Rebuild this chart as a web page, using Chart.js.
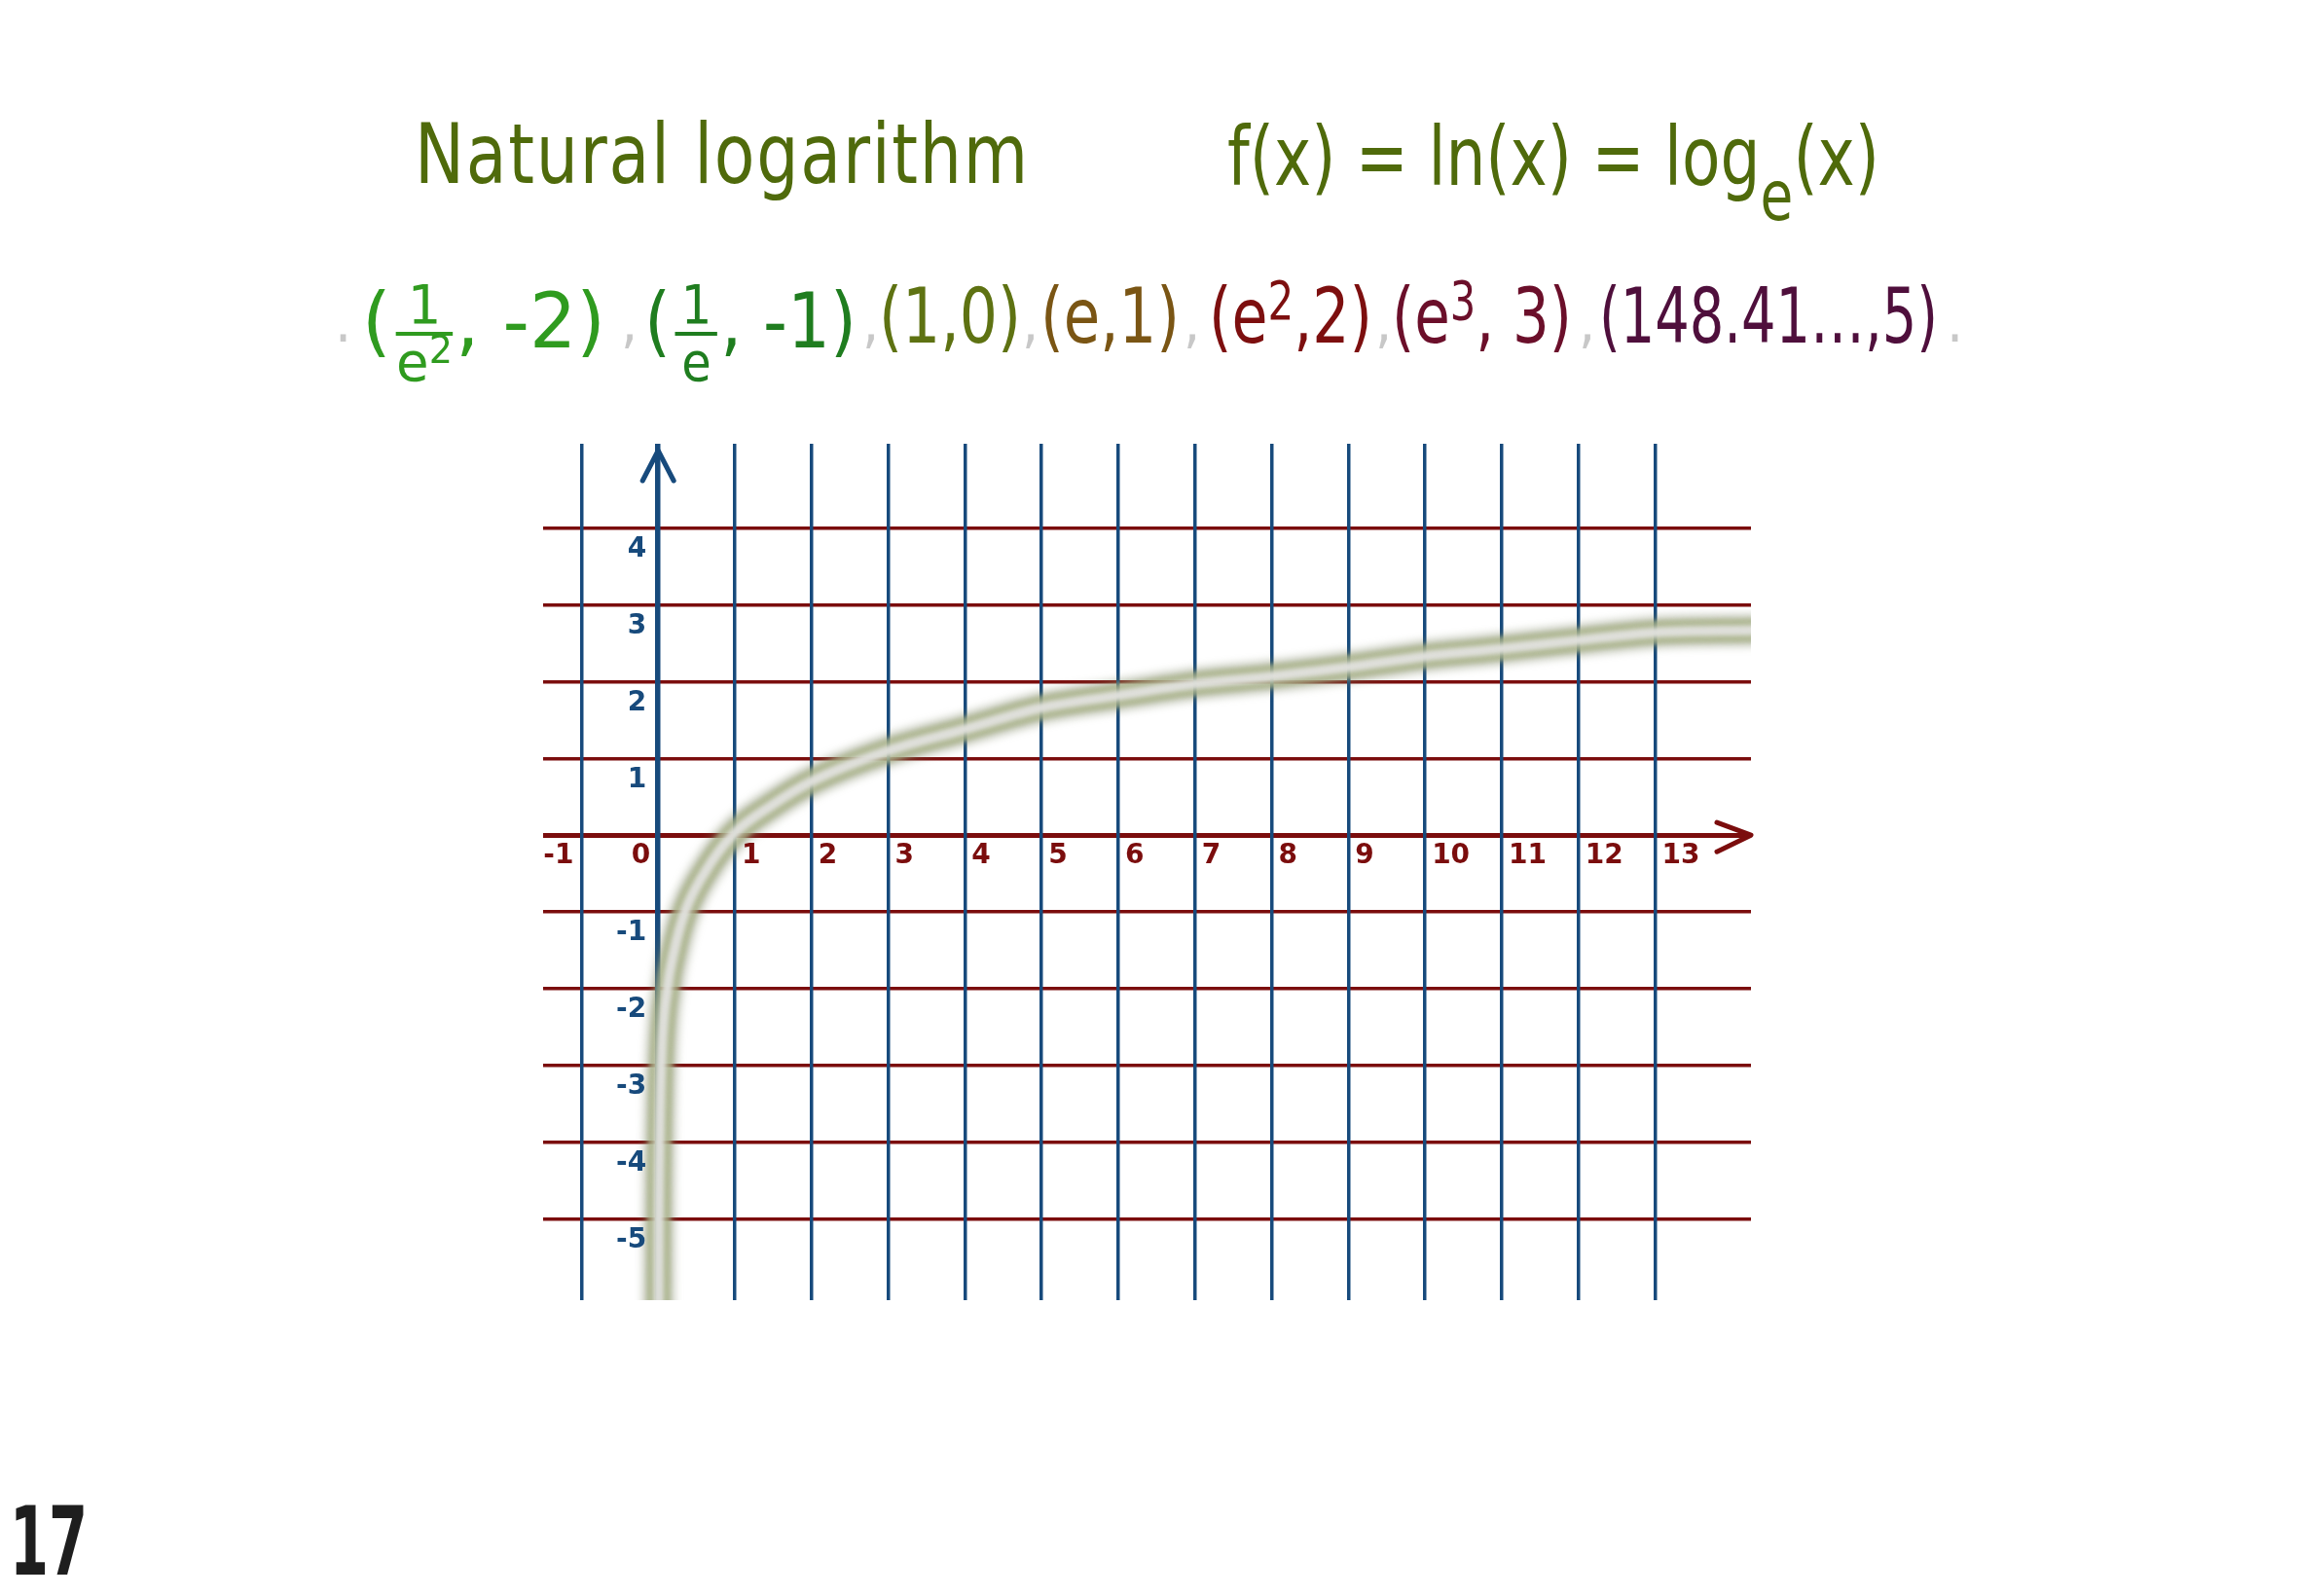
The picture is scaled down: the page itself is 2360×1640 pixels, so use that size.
<!DOCTYPE html>
<html>
<head>
<meta charset="utf-8">
<title>Natural logarithm</title>
<script src="https://cdn.jsdelivr.net/npm/chart.js@4.4.1/dist/chart.umd.min.js"></script>
<style>
  html, body { margin: 0; padding: 0; background: #fff; }
  body {
    width: 2360px; height: 1640px; position: relative; overflow: hidden;
    font-family: "Liberation Sans Narrow", "DejaVu Sans Condensed", "Liberation Sans", sans-serif;
  }
  #lnChart { position: absolute; left: 0; top: 0; }
  .hand { position: absolute; white-space: nowrap; line-height: 1; transform-origin: left top; }
  #title { left: 426px; top: 115px; font-size: 86px; color: #4f6a0b; letter-spacing: 2px; }
  #formula { left: 1261px; top: 119px; font-size: 84px; color: #4f6a0b; }
  #formula .sub { position: relative; top: 0.5em; font-size: 0.85em; }
  .g { position: absolute; top: 286px; font-size: 78px; line-height: 1; white-space: nowrap; transform-origin: left top; }
  .sep { position: absolute; top: 300px; font-size: 60px; line-height: 1; color: #c8c8c8; }
  .frac { display: inline-block; vertical-align: -34px; font-size: 56px; line-height: 0.95; text-align: center; margin: 0 3px 0 5px; }
  .frac .num { display: block; border-bottom: 4px solid currentColor; padding: 0 6px 2px; }
  .frac .den { display: block; }
  .g sup { font-size: 0.7em; vertical-align: 24px; line-height: 0; }
  .frac sup { font-size: 0.7em; vertical-align: 18px; }
  #page { left: 10px; top: 1535px; font-size: 98px; font-weight: bold; color: #1e1e1e; }
</style>
</head>
<body>
<canvas id="lnChart" width="2360" height="1640"></canvas>

<div class="hand" id="title" data-w="632">Natural logarithm</div>
<div class="hand" id="formula" data-w="670">f(x) = ln(x) = log<span class="sub">e</span>(x)</div>

<span class="sep" style="left:344px">.</span>
<span class="g" data-w="250" style="left:372px;color:#2f9b1f">(<span class="frac"><span class="num">1</span><span class="den">e<sup>2</sup></span></span>, -2)</span>
<span class="sep" style="left:638px">,</span>
<span class="g" data-w="218" style="left:662px;color:#1f7d1f">(<span class="frac"><span class="num">1</span><span class="den">e</span></span>, -1)</span>
<span class="sep" style="left:886px">,</span>
<span class="g" data-w="146" style="left:903px;color:#5e7212">(1,0)</span>
<span class="sep" style="left:1050px">,</span>
<span class="g" data-w="143" style="left:1069px;color:#7a5514">(e,1)</span>
<span class="sep" style="left:1216px">,</span>
<span class="g" data-w="168" style="left:1242px;color:#7d0f0f">(e<sup>2</sup>,2)</span>
<span class="sep" style="left:1413px">,</span>
<span class="g" data-w="185" style="left:1430px;color:#6b0f2a">(e<sup>3</sup>, 3)</span>
<span class="sep" style="left:1622px">,</span>
<span class="g" data-w="348" style="left:1643px;color:#4f0f3c">(148.41…,5)</span>
<span class="sep" style="left:2000px">.</span>

<div class="hand" id="page" data-w="80">17</div>

<script>
// ----------------- Data -----------------
const xTicks = [-1, 0, 1, 2, 3, 4, 5, 6, 7, 8, 9, 10, 11, 12, 13];
const yTicks = [-5, -4, -3, -2, -1, 0, 1, 2, 3, 4];

const curveX = [0.004, 0.008, 0.018, 0.04, 0.12, 0.2, 0.35, 0.6, 0.97, 1.5, 2, 3, 4, 5, 6, 7, 8, 9, 10, 11, 12, 13, 14.3];
const curveY = [-6.2, -5, -4, -3, -2, -1.55, -1, -0.5, 0, 0.4, 0.7, 1.1, 1.38, 1.66, 1.82, 1.97, 2.07, 2.19, 2.33, 2.43, 2.54, 2.64, 2.67];

// ----------------- Colours -----------------
const BLUE = '#174a7c';
const RED = '#7b0d0d';

const curvePoints = curveX.map((x, i) => ({ x: x, y: curveY[i] }));

// squeeze the handwritten-looking texts to the widths in the sketch
document.querySelectorAll('[data-w]').forEach(el => {
  const w = el.getBoundingClientRect().width;
  el.style.transform = 'scaleX(' + (Number(el.dataset.w) / w) + ')';
});

// ----------------- Plugins -----------------
// soft blur on the wide band layers
const bandBlur = {
  id: 'bandBlur',
  beforeDatasetDraw(chart, args) {
    const ds = chart.data.datasets[args.index];
    if (ds.blur) {
      chart.ctx.save();
      chart.ctx.filter = 'blur(' + ds.blur + 'px)';
    }
  },
  afterDatasetDraw(chart, args) {
    if (chart.data.datasets[args.index].blur) chart.ctx.restore();
  }
};

// tick numbers next to the axes + arrow heads
const axisDecor = {
  id: 'axisDecor',
  afterDatasetsDraw(chart) {
    const { ctx, chartArea } = chart;
    const xs = chart.scales.x, ys = chart.scales.y;
    const x0 = xs.getPixelForValue(0);
    const y0 = ys.getPixelForValue(0);

    ctx.save();
    ctx.font = 'bold 28px "DejaVu Sans", sans-serif';
    ctx.textBaseline = 'middle';

    ctx.fillStyle = RED;
    xTicks.forEach(v => {
      const px = xs.getPixelForValue(v);
      if (v <= 0) {
        ctx.textAlign = 'right';
        ctx.fillText(String(v), px - 8, y0 + 22);
      } else {
        ctx.textAlign = 'left';
        ctx.fillText(String(v), px + 7, y0 + 22);
      }
    });

    ctx.fillStyle = BLUE;
    ctx.textAlign = 'right';
    yTicks.forEach(v => {
      if (v === 0) return;
      ctx.fillText(String(v), x0 - 12, ys.getPixelForValue(v) + 22);
    });

    ctx.lineWidth = 5;
    ctx.lineCap = 'round';
    ctx.lineJoin = 'round';

    // y axis arrow
    const ty = chartArea.top + 7;
    ctx.strokeStyle = BLUE;
    ctx.beginPath();
    ctx.moveTo(x0 - 16, ty + 31);
    ctx.lineTo(x0, ty);
    ctx.lineTo(x0 + 16, ty + 31);
    ctx.stroke();

    // x axis arrow
    const tx = chartArea.right;
    ctx.strokeStyle = RED;
    ctx.beginPath();
    ctx.moveTo(tx - 35, y0 - 13);
    ctx.lineTo(tx, y0);
    ctx.lineTo(tx - 35, y0 + 17);
    ctx.stroke();

    ctx.restore();
  }
};

// ----------------- Chart -----------------
const ctx = document.getElementById('lnChart').getContext('2d');
const lnChart = new Chart(ctx, {
  type: 'line',
  data: {
    datasets: [
      {
        data: curvePoints,
        borderColor: 'rgba(226, 226, 222, 0.95)',
        borderWidth: 10,
        blur: 2
      },
      {
        data: curvePoints,
        borderColor: 'rgba(172, 182, 140, 0.75)',
        borderWidth: 24,
        blur: 2
      },
      {
        data: curvePoints,
        borderColor: 'rgba(118, 126, 92, 0.45)',
        borderWidth: 32,
        blur: 4
      }
    ]
  },
  options: {
    responsive: false,
    devicePixelRatio: 1,
    animation: false,
    layout: {
      padding: { left: 558, right: 561, top: 456, bottom: 304 }
    },
    elements: {
      point: { radius: 0 },
      line: {
        cubicInterpolationMode: 'monotone',
        borderCapStyle: 'round',
        borderJoinStyle: 'round',
        fill: false
      }
    },
    plugins: {
      legend: { display: false },
      tooltip: { enabled: false }
    },
    scales: {
      x: {
        type: 'linear',
        min: -1.5,
        max: 14.25,
        afterBuildTicks: (scale) => { scale.ticks = xTicks.map(v => ({ value: v })); },
        ticks: { display: false },
        border: { display: false },
        grid: {
          z: -1,
          drawTicks: false,
          color: BLUE,
          lineWidth: (c) => (c.tick && c.tick.value === 0 ? 5.5 : 3.5)
        }
      },
      y: {
        type: 'linear',
        min: -6.06,
        max: 5.1,
        afterBuildTicks: (scale) => { scale.ticks = yTicks.map(v => ({ value: v })); },
        ticks: { display: false },
        border: { display: false },
        grid: {
          z: -2,
          drawTicks: false,
          color: RED,
          lineWidth: (c) => (c.tick && c.tick.value === 0 ? 5 : 3.5)
        }
      }
    }
  },
  plugins: [bandBlur, axisDecor]
});
</script>
</body>
</html>
